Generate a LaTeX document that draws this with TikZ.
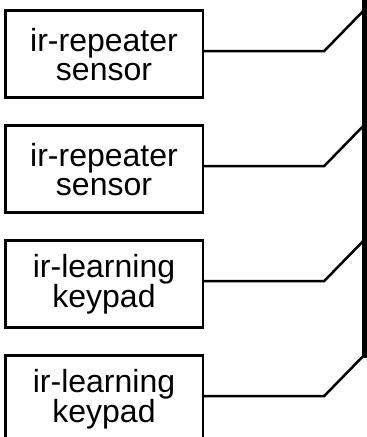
\documentclass[tikz,border=0pt]{standalone}
\usepackage{fontspec}
\setmainfont{Liberation Sans}
\tikzset{
	unitbox/.style={draw,line width=2.5pt,minimum width=197.5pt,minimum height=87pt,inner sep=0pt,align=center},
	wire/.style={line width=2.5pt},
	bus/.style={line width=5pt}
}
\begin{document}
\begin{tikzpicture}[x=1pt,y=1pt,line join=miter,font=\fontsize{32}{29}\selectfont]
	\useasboundingbox (0,0) rectangle (367,437);
	\coordinate (bustop) at (364.5,440);
	\coordinate (busend) at (364.5,79);
	\draw[bus] (bustop)--(busend);
	\foreach \n/\y/\txt in {1/382.75/{ir-repeater\\sensor},2/267.75/{ir-repeater\\sensor},3/152.75/{ir-learning\\keypad},4/37.75/{ir-learning\\keypad}}
	{
	\node[unitbox] (unit\n) at (104,\y) {\txt};
	\coordinate (tap\n) at (363,\y+43);
	\draw[wire] ([yshift=3pt]unit\n.east)--++(120,0)--(tap\n);
	}
\end{tikzpicture}
\end{document}
